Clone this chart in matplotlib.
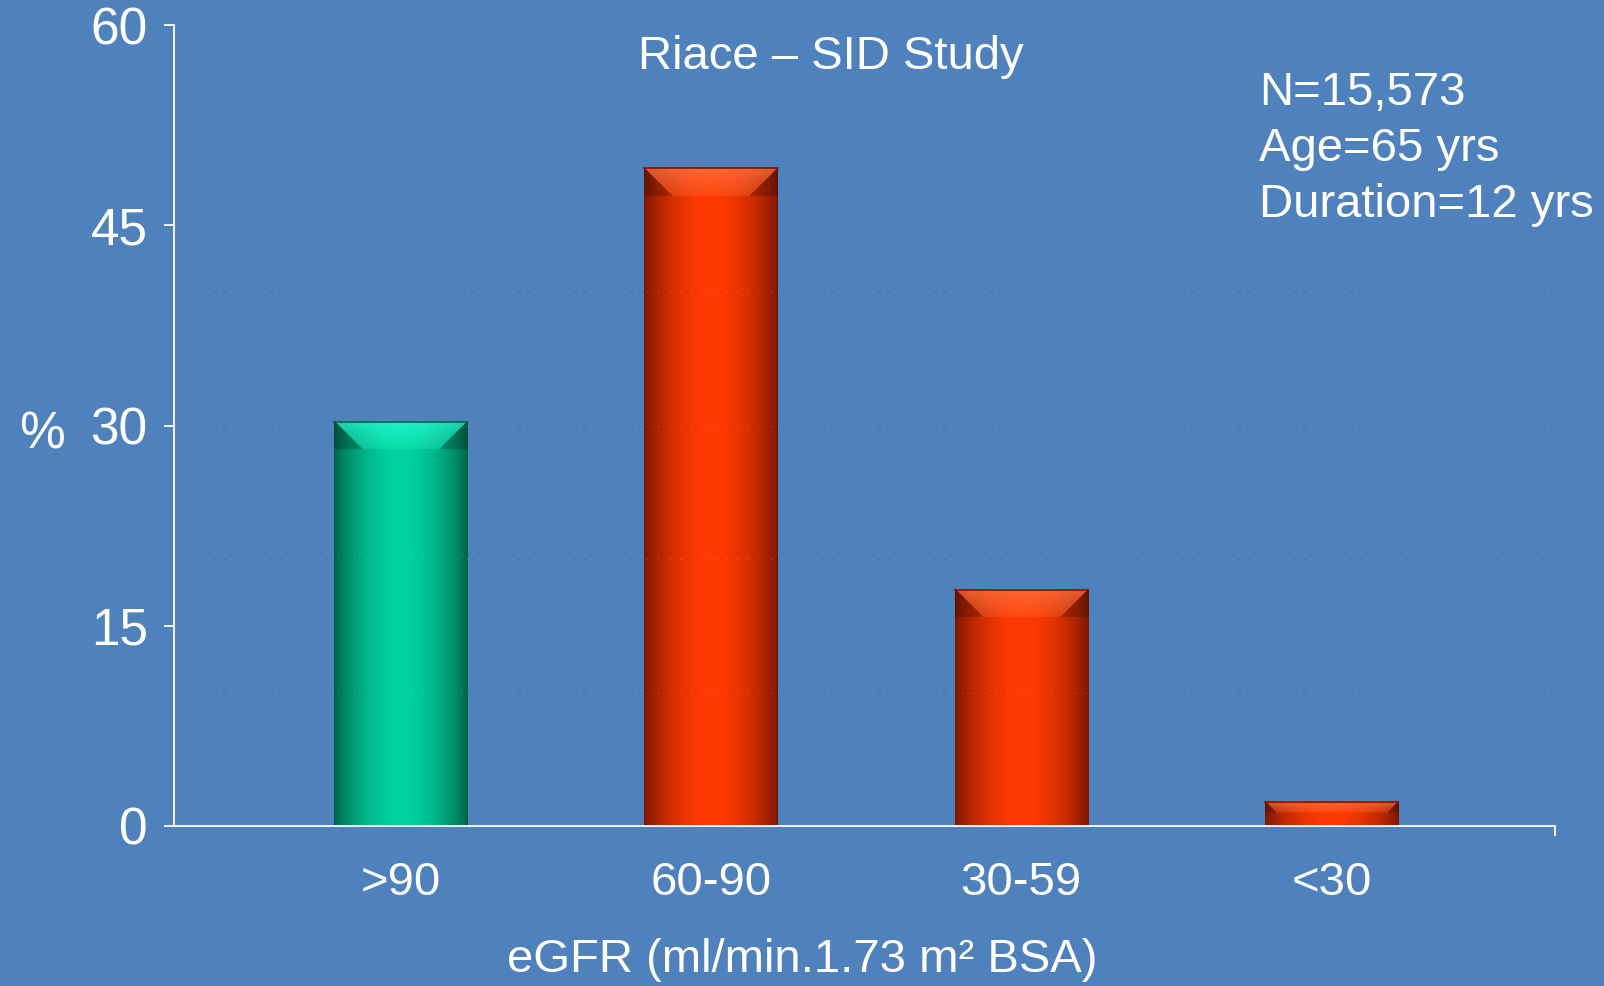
import matplotlib
matplotlib.use('Agg')
import matplotlib.pyplot as plt
import numpy as np

# data
categories = ['>90', '60-90', '30-59', '<30']
values = [30.3, 49.3, 17.7, 1.8]
yticks = [0, 15, 30, 45, 60]

bg = '#4f81bd'
teal = ((0/255, 95/255, 72/255), (0/255, 210/255, 160/255), (40/255, 255/255, 210/255))
red = ((120/255, 22/255, 0/255), (255/255, 58/255, 0/255), (255/255, 120/255, 70/255))
bar_styles = [teal, red, red, red]

plt.rcParams['font.family'] = ['Liberation Sans', 'DejaVu Sans']

fig = plt.figure(figsize=(16.04, 9.86), dpi=100, facecolor=bg)
ax = fig.add_axes([0.1085, 0.1623, 0.861, 0.812], facecolor=bg)

x = np.arange(len(categories))
bars = ax.bar(x, values, width=0.43, color='none', edgecolor='none')

ax.set_xlim(-0.73, 3.72)
ax.set_ylim(0, 60)

# axes styling
for s in ['top', 'right']:
    ax.spines[s].set_visible(False)
for s in ['left', 'bottom']:
    ax.spines[s].set_color('white')
    ax.spines[s].set_linewidth(1.3)

ax.set_yticks(yticks)
ax.tick_params(axis='y', colors='white', direction='out', length=7, width=1.3,
               labelsize=37, pad=12)
ax.set_xticks(x)
ax.set_xticklabels(categories)
ax.tick_params(axis='x', colors='white', length=0, labelsize=34, pad=25)
ax.set_xticks([3.72], minor=True)
ax.tick_params(axis='x', which='minor', colors='white', direction='out', length=7, width=1.3)

# gradient-shaded bars
fig.canvas.draw()
for rect, (dark, mid, light) in zip(bars.patches, bar_styles):
    x0, w, h = rect.get_x(), rect.get_width(), rect.get_height()
    p0 = ax.transData.transform((x0, 0))
    p1 = ax.transData.transform((x0 + w, h))
    W = max(int(round(p1[0] - p0[0])), 2)
    H = max(int(round(p1[1] - p0[1])), 2)
    u = (np.arange(W) + 0.5) / W
    prof = np.sin(np.pi * u) ** 0.8
    dark_a = np.array(dark)
    mid_a = np.array(mid)
    light_a = np.array(light)
    row = dark_a[None, :] + (mid_a - dark_a)[None, :] * prof[:, None]
    img = np.repeat(row[None, :, :], H, axis=0)
    # top bevel
    depth = min(28, H * 0.45)
    px = np.arange(W) + 0.5
    for r in range(int(np.ceil(depth))):
        d = r + 0.5
        inner = (px > d) & (px < W - d)
        t = 1 - d / depth
        img[r, inner] = img[r, inner] * (1 - 0.45 * t) + light_a * 0.45 * t + (light_a - img[r, inner]) * 0.25
        img[r, ~inner] = img[r, ~inner] * 0.8
    img = np.clip(img, 0, 1)
    ax.imshow(img, extent=(x0, x0 + w, 0, h), origin='upper', aspect='auto',
              interpolation='bilinear', zorder=2)
    ax.plot([x0, x0 + w], [h, h], color=dark, lw=1.2, zorder=3)

# faint dotted grid (shows mostly over the bars)
for yv in [10, 20, 30, 40]:
    ax.axhline(yv, color='white', lw=0.9, ls=(0, (1, 8)), alpha=0.22, zorder=4)

ax.set_xlim(-0.73, 3.72)
ax.set_ylim(0, 60)

fig.text(0.026, 0.559, '%', color='white', fontsize=37, ha='center', va='center')
ax.text(0.455, -0.168, 'eGFR (ml/min.1.73 m² BSA)', transform=ax.transAxes,
        color='white', fontsize=34, ha='center', va='center')
fig.text(0.518, 0.942, 'Riace – SID Study', color='white', fontsize=34,
         ha='center', va='center')
fig.text(0.785, 0.928, 'N=15,573\nAge=65 yrs\nDuration=12 yrs', color='white',
         fontsize=34, ha='left', va='top', linespacing=1.35)

fig.savefig('out.png', dpi=100, facecolor=bg)
